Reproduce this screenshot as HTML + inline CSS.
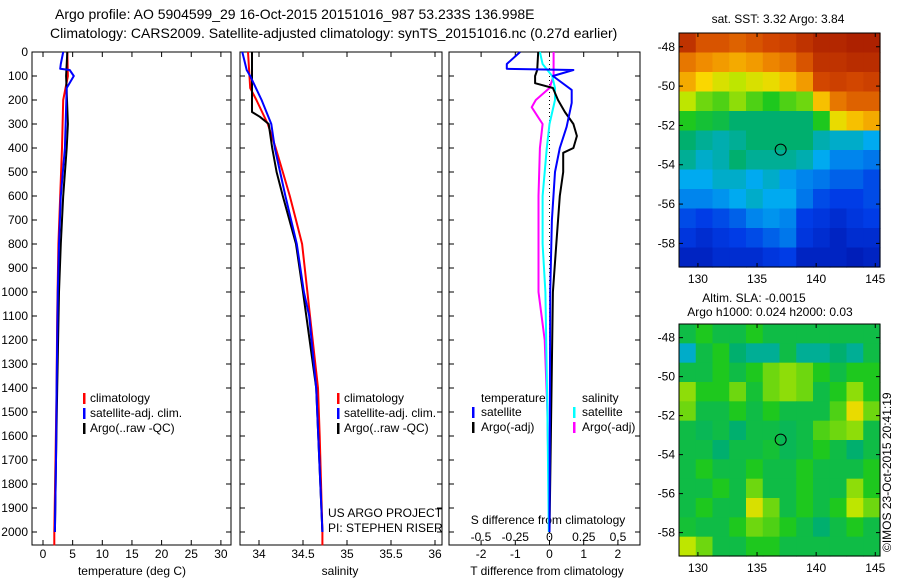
<!DOCTYPE html>
<html><head><meta charset="utf-8">
<style>
html,body{margin:0;padding:0;background:#fff;}
svg{display:block;font-family:"Liberation Sans",sans-serif;}
text{fill:#000;}
</style></head>
<body>
<svg id="c" width="900" height="580" viewBox="0 0 900 580" xmlns="http://www.w3.org/2000/svg">
<text x="55" y="19" font-size="14">Argo profile: AO 5904599_29 16-Oct-2015 20151016_987 53.233S 136.998E</text>
<text x="50" y="38" font-size="14">Climatology: CARS2009. Satellite-adjusted climatology: synTS_20151016.nc (0.27d earlier)</text>
<g id="g"></g>
</svg>
<script>
// ---- data ----
const depthTicks=[0,100,200,300,400,500,600,700,800,900,1000,1100,1200,1300,1400,1500,1600,1700,1800,1900,2000];
const tempTicks=[0,5,10,15,20,25,30];
const salTicks=[34,34.5,35,35.5,36];
const salTickLabels=["34","34.5","35","35.5","36"];
const tdTicks=[-2,-1,0,1,2];
const sdTicks=[-0.5,-0.25,0,0.25,0.5];
const sdTickLabels=["-0.5","-0.25","0","0.25","0.5"];
const lonTicks=[130,135,140,145];
const latTicks=[-48,-50,-52,-54,-56,-58];

const tClimD=[0,100,200,400,600,800,1100,1400,1700,2000,2055];
const tClimV=[4.1,4.2,3.4,3.2,2.9,2.6,2.4,2.3,2.1,1.9,1.9];
const tSatD=[0,50,70,75,100,150,400,600,800,1000,1400,1700,2000];
const tSatV=[3.4,3.0,2.9,4.5,5.2,4.0,3.7,3.0,2.7,2.5,2.3,2.2,2.0];
const tArgoD=[0,100,300,400,600,800,1000,1400,1700,2000];
const tArgoV=[4.1,3.9,4.2,4.0,3.4,3.0,2.7,2.4,2.2,2.0];

const sClimD=[0,150,200,300,400,500,600,700,800,1000,1100,1400,1600,2000,2055];
const sClimV=[33.875,33.9,33.97,34.1,34.19,34.27,34.35,34.42,34.49,34.55,34.58,34.67,34.69,34.72,34.72];
const sSatD=[0,75,100,200,300,400,500,600,800,1000,1100,1400,2000];
const sSatV=[33.81,33.86,33.9,34.03,34.14,34.18,34.24,34.3,34.43,34.51,34.57,34.65,34.72];
const sArgoD=[0,250,270,300,400,500,600,800,1000,1400,2000];
const sArgoV=[33.92,33.92,34.01,34.11,34.15,34.2,34.27,34.42,34.5,34.65,34.72];

const dTSatD=[0,50,70,75,100,158,212,312,400,500,700,1000,2000];
const dTSatV=[-0.86,-1.25,-1.25,0.7,0.1,0.65,0.65,0.5,0.3,0.16,0.07,0.02,0];
const dTArgoD=[0,75,100,130,150,200,250,300,350,400,420,500,600,800,1000,2000];
const dTArgoV=[-0.33,-0.36,-0.42,-0.42,0.1,0.25,0.45,0.7,0.8,0.7,0.4,0.4,0.3,0.2,0.1,0];
const dSArgoD=[0,100,150,200,230,270,300,400,600,800,1000,1200,1500,2000];
const dSArgoV=[0.03,0.03,0,-0.1,-0.13,-0.085,-0.05,-0.07,-0.08,-0.08,-0.08,-0.035,-0.015,0];
const dSSatD=[0,50,100,150,200,300,400,600,800,1000,1500,2000];
const dSSatV=[-0.07,-0.05,0.02,0.04,0.04,0,-0.02,-0.05,-0.05,-0.03,-0.015,-0.005];

const sstGrid=[
[.95,.9,.9,.88,.9,.92,.93,.95,.97,.97,.98,.98],
[.85,.82,.8,.78,.8,.83,.85,.9,.95,.95,.96,.96],
[.78,.72,.68,.65,.68,.7,.75,.8,.92,.93,.92,.93],
[.65,.6,.58,.62,.58,.55,.58,.6,.75,.85,.88,.88],
[.55,.52,.5,.45,.45,.45,.45,.45,.55,.7,.75,.78],
[.45,.42,.4,.42,.45,.45,.45,.45,.4,.38,.38,.35],
[.42,.38,.4,.45,.42,.42,.42,.4,.35,.3,.3,.28],
[.35,.35,.38,.38,.35,.38,.33,.3,.28,.25,.25,.22],
[.3,.3,.32,.35,.38,.35,.35,.28,.22,.2,.2,.22],
[.22,.2,.22,.25,.3,.32,.3,.2,.18,.15,.18,.2],
[.18,.15,.18,.2,.22,.25,.28,.18,.15,.12,.15,.15],
[.12,.12,.15,.15,.15,.18,.2,.12,.12,.12,.1,.12]];
const slaGrid=[
[.5,.55,.5,.5,.55,.5,.5,.5,.5,.5,.5,.5],
[.38,.5,.55,.45,.42,.42,.5,.42,.42,.45,.42,.5],
[.5,.5,.55,.5,.55,.6,.62,.6,.55,.5,.55,.55],
[.62,.55,.55,.6,.52,.6,.62,.6,.5,.55,.62,.55],
[.6,.5,.5,.55,.5,.55,.5,.5,.5,.58,.7,.6],
[.5,.48,.5,.45,.5,.5,.48,.5,.58,.6,.62,.5],
[.5,.5,.45,.5,.5,.52,.48,.5,.55,.5,.45,.5],
[.5,.55,.5,.5,.55,.5,.5,.55,.5,.5,.5,.55],
[.5,.5,.55,.5,.6,.5,.5,.55,.5,.5,.62,.55],
[.5,.55,.5,.5,.68,.6,.5,.55,.5,.55,.65,.6],
[.52,.5,.5,.55,.6,.58,.55,.5,.45,.5,.55,.5],
[.65,.6,.5,.5,.55,.55,.5,.5,.5,.5,.5,.5]];
const argoLon=136.998, argoLat=-53.233;

// ---- helpers ----
const NS="http://www.w3.org/2000/svg";
const G=document.getElementById('g');
function mk(tag,attrs,parent){const e=document.createElementNS(NS,tag);for(const k in attrs)e.setAttribute(k,attrs[k]);(parent||G).appendChild(e);return e;}
const yTop=52,yPerM=0.24;
const yD=d=>yTop+d*yPerM;
const yBot=545;
const P1={l:32,r:231,x:v=>43+v*5.93};
const P2={l:240,r:442,x:v=>259+(v-34)*88};
const P3={l:449,r:640,x:v=>549.5+v*34.2};
const sdx=v=>549.5+v*137;

function frame(p,name){
  const r=mk('rect',{x:p.l,y:yTop,width:p.r-p.l,height:yBot-yTop,fill:'none',stroke:'#000','stroke-width':1});
  
  
  depthTicks.forEach(d=>{
    const y=yD(d);
    mk('line',{x1:p.l,x2:p.l+5,y1:y,y2:y,stroke:'#000'});
    mk('line',{x1:p.r-5,x2:p.r,y1:y,y2:y,stroke:'#000'});
  });
}
function xticks(p,ticks,labels,fx,ylab){
  ticks.forEach((t,i)=>{
    const x=fx(t);
    mk('line',{x1:x,x2:x,y1:yBot,y2:yBot-5,stroke:'#000'});
    mk('line',{x1:x,x2:x,y1:yTop,y2:yTop+5,stroke:'#000'});
    const tx=mk('text',{x:x,y:ylab,'font-size':12,'text-anchor':'middle'});
    tx.textContent=labels?labels[i]:String(t);
    
    
  });
}
function line(D,V,fx,color,name,w){
  const pts=[];
  for(let i=0;i<D.length;i++){
    pts.push(fx(V[i]).toFixed(1)+','+yD(D[i]).toFixed(1));
  }
  const p=mk('polyline',{points:pts.join(' '),fill:'none',stroke:color,'stroke-width':w||2,'stroke-linejoin':'round'});
  
  
}
function txt(x,y,s,name,size,anchor){
  const t=mk('text',{x:x,y:y,'font-size':size||12,'text-anchor':anchor||'start'});
  t.textContent=s;
  
  
  return t;
}
function legbar(x,y,color){
  const r=mk('rect',{x:x,y:y-10,width:2.5,height:11,fill:color});
  
  
}

// ---- panel 1: temperature ----
frame(P1,'temperature-panel');
depthTicks.forEach(d=>{txt(28,yD(d)+4,String(d),'depth-tick-label',12,'end');});
xticks(P1,tempTicks,null,P1.x,558);
txt(132,575,'temperature (deg C)','temperature-axis-title',12,'middle');
line(tClimD,tClimV,P1.x,'#f00','temp-climatology-line');
line(tArgoD,tArgoV,P1.x,'#000','temp-argo-line');
line(tSatD,tSatV,P1.x,'#00f','temp-satellite-line');
legbar(83,403,'#f00');txt(90,402,'climatology','legend-climatology');
legbar(83,418,'#00f');txt(90,417,'satellite-adj. clim.','legend-satellite');
legbar(83,433,'#000');txt(90,432,'Argo(..raw -QC)','legend-argo');

// ---- panel 2: salinity ----
frame(P2,'salinity-panel');
xticks(P2,salTicks,salTickLabels,P2.x,558);
txt(340,575,'salinity','salinity-axis-title',12,'middle');
line(sClimD,sClimV,P2.x,'#f00','sal-climatology-line');
line(sArgoD,sArgoV,P2.x,'#000','sal-argo-line');
line(sSatD,sSatV,P2.x,'#00f','sal-satellite-line');
legbar(337,403,'#f00');txt(344,402,'climatology','legend-climatology');
legbar(337,418,'#00f');txt(344,417,'satellite-adj. clim.','legend-satellite');
legbar(337,433,'#000');txt(344,432,'Argo(..raw -QC)','legend-argo');
txt(328,517,'US ARGO PROJECT','project-label',12);
txt(328,532,'PI: STEPHEN RISER','pi-label',12);

// ---- panel 3: differences ----
frame(P3,'difference-panel');
xticks(P3,tdTicks,null,P3.x,558);
sdTicks.forEach((t,i)=>{txt(sdx(t),541,sdTickLabels[i],'s-diff-tick-label',12,'middle');});
txt(548,524,'S difference from climatology','s-diff-axis-title',12,'middle');
txt(547,575,'T difference from climatology','t-diff-axis-title',12,'middle');
const zl=mk('line',{x1:P3.x(0),x2:P3.x(0),y1:yTop,y2:yBot,stroke:'#000','stroke-dasharray':'1,3'});


line(dSArgoD,dSArgoV,sdx,'#f0f','s-diff-argo-line');
line(dSSatD,dSSatV,sdx,'#0ff','s-diff-satellite-line');
line(dTArgoD,dTArgoV,P3.x,'#000','t-diff-argo-line');
line(dTSatD,dTSatV,P3.x,'#00f','t-diff-satellite-line');
txt(481,402,'temperature','legend-temperature-heading');
txt(582,402,'salinity','legend-salinity-heading');
legbar(472,417,'#00f');txt(481,416,'satellite','legend-t-satellite');
legbar(472,432,'#000');txt(481,431,'Argo(-adj)','legend-t-argo');
legbar(573,417,'#0ff');txt(582,416,'satellite','legend-s-satellite');
legbar(573,432,'#f0f');txt(582,431,'Argo(-adj)','legend-s-argo');

// ---- maps ----
const cmapStops=[0,0.2,0.35,0.45,0.55,0.65,0.72,0.82,0.92,1];
const cmapCols=[[0,0,140],[0,60,230],[0,170,240],[0,175,110],[30,200,30],[190,230,0],[250,215,0],[240,140,0],[210,70,0],[160,20,0]];
function cmap(v){
  v=Math.max(0,Math.min(1,v));
  let i=0;while(i<cmapStops.length-2&&v>cmapStops[i+1])i++;
  const f=(v-cmapStops[i])/(cmapStops[i+1]-cmapStops[i]);
  const a=cmapCols[i],b=cmapCols[i+1];
  return `rgb(${Math.round(a[0]+(b[0]-a[0])*f)},${Math.round(a[1]+(b[1]-a[1])*f)},${Math.round(a[2]+(b[2]-a[2])*f)})`;
}
const lonL=128.4,lonR=145.4;
function mapPanel(grid,top,bottom,name){
  const L=679,R=880;
  const fx=lon=>L+(lon-lonL)/(lonR-lonL)*(R-L);
  const latTop=-47.3,latBot=-59.2;
  const fy=lat=>top+(lat-latTop)/(latBot-latTop)*(bottom-top);
  const g=mk('g',{});
  
  
  const nr=grid.length,nc=grid[0].length,cw=(R-L)/nc,ch=(bottom-top)/nr;
  for(let i=0;i<nr;i++)for(let j=0;j<nc;j++){
    const c=mk('rect',{x:(L+j*cw).toFixed(2),y:(top+i*ch).toFixed(2),width:(cw+0.6).toFixed(2),height:(ch+0.6).toFixed(2),fill:cmap(grid[i][j])},g);
    
    
  }
  mk('rect',{x:L,y:top,width:R-L,height:bottom-top,fill:'none',stroke:'#000'});
  lonTicks.forEach(t=>{const x=fx(t);mk('line',{x1:x,x2:x,y1:bottom,y2:bottom-4,stroke:'#000'});mk('line',{x1:x,x2:x,y1:top,y2:top+4,stroke:'#000'});txt(x,bottom+16,String(t),'lon-tick-label',12,'middle');});
  latTicks.forEach(t=>{const y=fy(t);mk('line',{x1:L,x2:L+4,y1:y,y2:y,stroke:'#000'});mk('line',{x1:R-4,x2:R,y1:y,y2:y,stroke:'#000'});txt(L-4,y+4,String(t),'lat-tick-label',12,'end');});
  const m=mk('circle',{cx:fx(argoLon),cy:fy(argoLat),r:5.5,fill:'none',stroke:'#000'});
  
  
}
mapPanel(sstGrid,33,267,'sst-map');
txt(778,23,'sat. SST: 3.32 Argo: 3.84','sst-map-title',12,'middle');
mapPanel(slaGrid,324,556,'sla-map');
txt(754,302,'Altim. SLA: -0.0015','sla-map-title',12,'middle');
txt(770,316,'Argo h1000: 0.024 h2000: 0.03','sla-map-subtitle',12,'middle');
const cp=txt(0,0,'©IMOS 23-Oct-2015 20:41:19','copyright-label',12,'start');
cp.setAttribute('transform','translate(891,552) rotate(-90)');
</script>
</body></html>
